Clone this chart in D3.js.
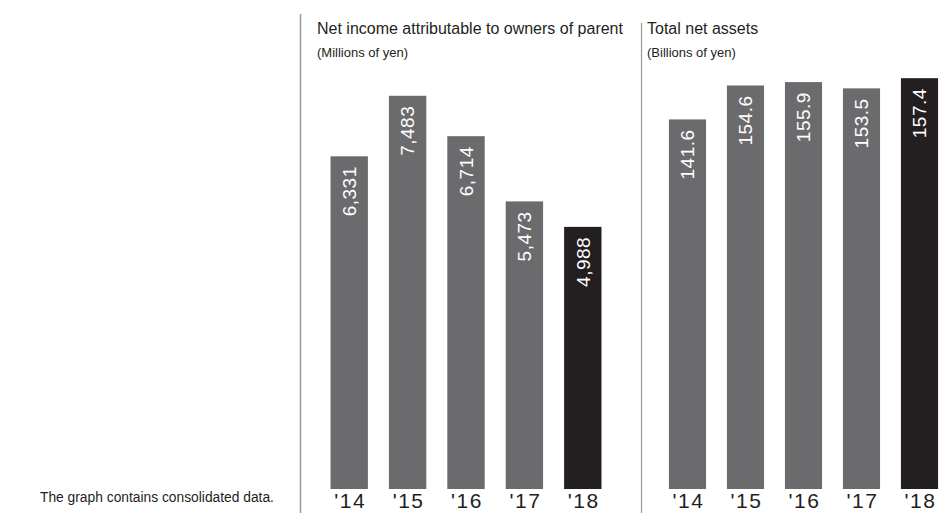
<script src="https://d3js.org/d3.v7.min.js"></script>
<body style="margin:0;background:#fff">
    <div id="chart"></div>
</body>
<style>
text { font-family: "Liberation Sans", Arial, sans-serif; fill: #231f20; }
.val { fill: #fff; }
</style>

<script>
var years = ["'14", "'15", "'16", "'17", "'18"];
var netIncome = [6331, 7483, 6714, 5473, 4988];
var netAssets = [141.6, 154.6, 155.9, 153.5, 157.4];
var incomeLabels = ["6,331", "7,483", "6,714", "5,473", "4,988"];
var assetLabels = ["141.6", "154.6", "155.9", "153.5", "157.4"];

var width = 939, height = 513, base = 489;

var svg = d3.select("#chart").append("svg")
  .attr("width", width)
  .attr("height", height);

// divider lines
svg.append("line")
  .attr("x1", 300.5).attr("x2", 300.5).attr("y1", 14).attr("y2", height)
  .attr("stroke", "#9a9a9a").attr("stroke-width", 1.5);
svg.append("line")
  .attr("x1", 641.5).attr("x2", 641.5).attr("y1", 23).attr("y2", height)
  .attr("stroke", "#9a9a9a").attr("stroke-width", 1.2);

svg.append("text")
  .attr("x", 40).attr("y", 502)
  .attr("font-size", 13.8)
  .text("The graph contains consolidated data.");

function panel(opts) {
  var x = d3.scaleBand()
    .domain(years)
    .range(opts.xr)
    .paddingInner(0.36)
    .paddingOuter(0.18);
  var y = d3.scaleLinear()
    .domain(opts.domain)
    .range([base, opts.top]);

  var g = svg.append("g");

  g.append("text")
    .attr("x", opts.tx).attr("y", 34)
    .attr("font-size", 16)
    .text(opts.title);
  g.append("text")
    .attr("x", opts.tx).attr("y", 57)
    .attr("font-size", 13)
    .text(opts.unit);

  g.selectAll("rect")
    .data(opts.values)
    .enter().append("rect")
    .attr("x", function(d, i) { return x(years[i]); })
    .attr("y", function(d) { return y(d); })
    .attr("width", x.bandwidth())
    .attr("height", function(d) { return base - y(d); })
    .attr("fill", function(d, i) { return i == years.length - 1 ? "#231f20" : "#6b6b6e"; });

  g.selectAll(".val")
    .data(opts.values)
    .enter().append("text")
    .attr("class", "val")
    .attr("font-size", 19)
    .attr("letter-spacing", 0.5)
    .attr("text-anchor", "end")
    .attr("dy", "0.36em")
    .attr("transform", function(d, i) {
      return "translate(" + (x(years[i]) + x.bandwidth() / 2) + "," + (y(d) + 10) + ") rotate(-90)";
    })
    .text(function(d, i) { return opts.labels[i]; });

  g.selectAll(".yr")
    .data(years)
    .enter().append("text")
    .attr("class", "yr")
    .attr("x", function(d) { return x(d) + x.bandwidth() / 2 + 1; })
    .attr("y", 508)
    .attr("font-size", 21)
    .attr("letter-spacing", 1.5)
    .attr("text-anchor", "middle")
    .text(function(d) { return d; });
}

panel({
  xr: [320, 612], domain: [0, 8000], top: base - 8000 * 0.05255,
  values: netIncome, labels: incomeLabels, tx: 317,
  title: "Net income attributable to owners of parent", unit: "(Millions of yen)"
});

panel({
  xr: [658.5, 948.5], domain: [0, 160], top: base - 160 * 2.61,
  values: netAssets, labels: assetLabels, tx: 647,
  title: "Total net assets", unit: "(Billions of yen)"
});
</script>
